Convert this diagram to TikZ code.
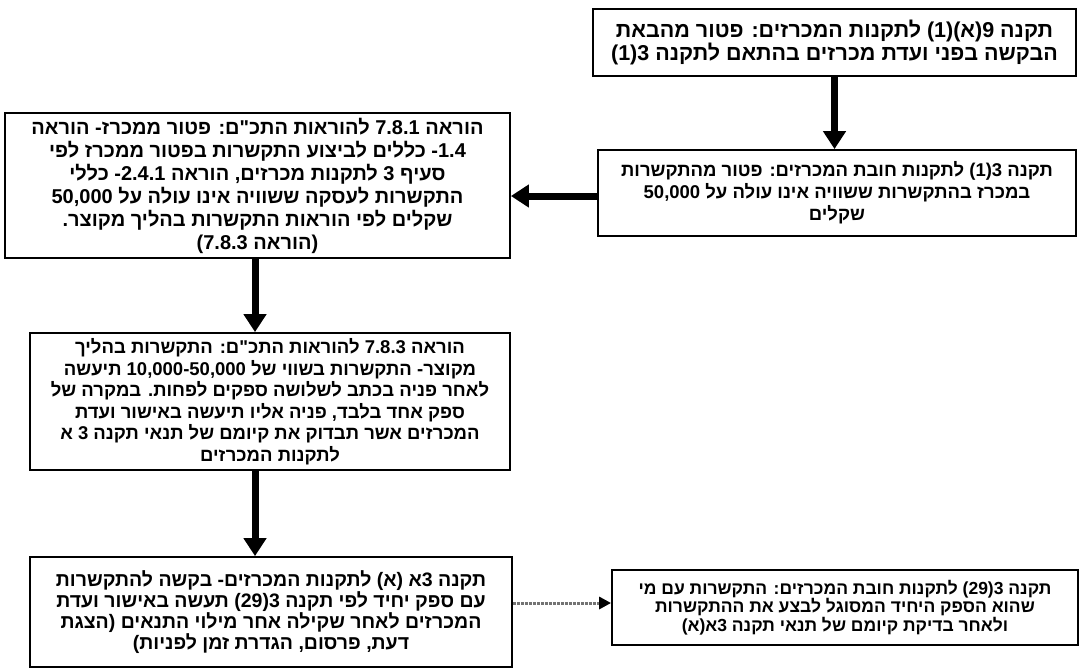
\documentclass[tikz,border=0pt]{standalone}
\usepackage{fontspec}
\TeXXeTstate=1
\newfontfamily\hebfont[Script=Hebrew]{Liberation Sans}
\usetikzlibrary{arrows.meta}
\newcommand{\hln}[1]{\beginR #1\endR}
\tikzset{
  box/.style={draw=black, line width=1.8pt, inner sep=0pt, align=center, text=black},
  bigarrow/.style={line width=7pt, -{Triangle[width=22pt,length=18pt]}},
  greyarrow/.style={draw=black!55, line width=3pt, densely dotted, -{Triangle[width=12pt,length=12pt,color=black]}}
}
\begin{document}
\begin{tikzpicture}[x=1pt,y=-1pt]
\useasboundingbox[fill=white] (0,0) rectangle (1083,670);

\node[box, minimum width=483pt, minimum height=67pt, font=\hebfont\bfseries\fontsize{21.5}{20.5}\selectfont] (b1) at (834.5,42.5)
 {\hln{תקנה 9(א)(1) לתקנות המכרזים: פטור מהבאת}\\
  \hln{הבקשה בפני ועדת מכרזים בהתאם לתקנה 3(1)}};

\node[box, minimum width=478pt, minimum height=86pt, font=\hebfont\bfseries\fontsize{18.5}{22}\selectfont] (b2) at (837,193)
 {\hln{תקנה 3(1) לתקנות חובת המכרזים: פטור מהתקשרות}\\
  \hln{במכרז בהתקשרות ששוויה אינו עולה על 50,000}\\
  \hln{שקלים}};

\node[box, minimum width=505pt, minimum height=145pt, font=\hebfont\bfseries\fontsize{20}{23}\selectfont] (b3) at (257.5,185.5)
 {\hln{הוראה 7.8.1 להוראות התכ"ם: פטור ממכרז- הוראה}\\
  \hln{1.4- כללים לביצוע התקשרות בפטור ממכרז לפי}\\
  \hln{סעיף 3 לתקנות מכרזים, הוראה 2.4.1- כללי}\\
  \hln{התקשרות לעסקה ששוויה אינו עולה על 50,000}\\
  \hln{שקלים לפי הוראות התקשרות בהליך מקוצר.}\\
  \hln{(הוראה 7.8.3)}};

\node[box, minimum width=480pt, minimum height=137pt, font=\hebfont\bfseries\fontsize{18.5}{21.5}\selectfont] (b4) at (270,401.5)
 {\hln{הוראה 7.8.3 להוראות התכ"ם: התקשרות בהליך}\\
  \hln{מקוצר- התקשרות בשווי של 10,000-50,000 תיעשה}\\
  \hln{לאחר פניה בכתב לשלושה ספקים לפחות. במקרה של}\\
  \hln{ספק אחד בלבד, פניה אליו תיעשה באישור ועדת}\\
  \hln{המכרזים אשר תבדוק את קיומם של תנאי תקנה 3 א}\\
  \hln{לתקנות המכרזים}};

\node[box, minimum width=482pt, minimum height=110pt, font=\hebfont\bfseries\fontsize{19.5}{19.5}\selectfont] (b5) at (271,612)
 {\hln{תקנה 3א (א) לתקנות המכרזים- בקשה להתקשרות}\\
  \hln{עם ספק יחיד לפי תקנה 3(29) תעשה באישור ועדת}\\
  \hln{המכרזים לאחר שקילה אחר מילוי התנאים (הצגת}\\
  \hln{דעת, פרסום, הגדרת זמן לפניות)}};

\node[box, minimum width=466pt, minimum height=75pt, font=\hebfont\bfseries\fontsize{17.5}{18.5}\selectfont] (b6) at (845,607.5)
 {\hln{תקנה 3(29) לתקנות חובת המכרזים: התקשרות עם מי}\\
  \hln{שהוא הספק היחיד המסוגל לבצע את ההתקשרות}\\
  \hln{ולאחר בדיקת קיומם של תנאי תקנה 3א(א)}};

\coordinate (cx) at (255,0);
\coordinate (cy) at (0,196);
\coordinate (cz) at (0,603);

\draw[bigarrow] (b1.south) -- (b1.south |- b2.north);
\draw[bigarrow] (b2.west |- cy) -- (b3.east |- cy);
\draw[bigarrow] (b3.south -| cx) -- (b4.north -| cx);
\draw[bigarrow] (b4.south -| cx) -- (b5.north -| cx);
\draw[greyarrow] (b5.east |- cz) -- (b6.west |- cz);
\end{tikzpicture}
\end{document}
